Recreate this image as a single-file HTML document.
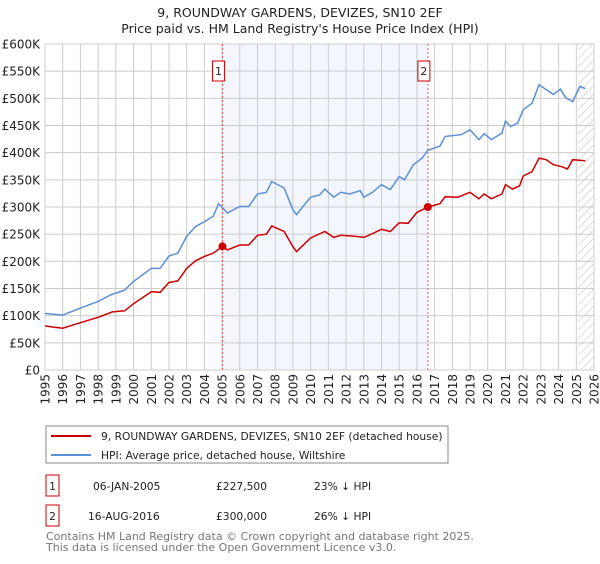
<!DOCTYPE html>
<html><head><meta charset="utf-8"><style>
body{margin:0;background:#fff;font-family:"DejaVu Sans","Liberation Sans",sans-serif;}
</style></head><body>
<svg width="600" height="560" xmlns="http://www.w3.org/2000/svg" font-family="DejaVu Sans, Liberation Sans, sans-serif">
<defs><pattern id="hatch" width="6" height="6" patternUnits="userSpaceOnUse" patternTransform="rotate(45)"><line x1="0" y1="0" x2="0" y2="6" stroke="#bbb" stroke-width="1"/></pattern></defs>
<text x="300" y="17" text-anchor="middle" font-size="12.5" fill="#222">9, ROUNDWAY GARDENS, DEVIZES, SN10 2EF</text>
<text x="300" y="33" text-anchor="middle" font-size="12.5" fill="#222">Price paid vs. HM Land Registry's House Price Index (HPI)</text>
<g id="plot"></g>
<g>
<rect x="46" y="426" width="402" height="37" fill="#fff" stroke="#888"/>
<line x1="51" y1="436" x2="91" y2="436" stroke="#cc0000" stroke-width="2"/>
<text x="101" y="440" font-size="10.7" fill="#222">9, ROUNDWAY GARDENS, DEVIZES, SN10 2EF (detached house)</text>
<line x1="51" y1="455" x2="91" y2="455" stroke="#5b8fd6" stroke-width="2"/>
<text x="101" y="459" font-size="10.7" fill="#222">HPI: Average price, detached house, Wiltshire</text>
</g>
<g font-size="10.7" fill="#222">
<rect x="46" y="475" width="13" height="21" fill="#fff" stroke="#cc0000"/><text x="52.5" y="490" text-anchor="middle">1</text>
<text x="93" y="490">06-JAN-2005</text><text x="216" y="490">£227,500</text><text x="314" y="490">23% ↓ HPI</text>
<rect x="46" y="505" width="13" height="21" fill="#fff" stroke="#cc0000"/><text x="52.5" y="520" text-anchor="middle">2</text>
<text x="88" y="520">16-AUG-2016</text><text x="216" y="520">£300,000</text><text x="314" y="520">26% ↓ HPI</text>
</g>
<text x="46" y="540" font-size="11" fill="#777">Contains HM Land Registry data © Crown copyright and database right 2025.</text>
<text x="46" y="551" font-size="11" fill="#777">This data is licensed under the Open Government Licence v3.0.</text>
</svg>
<script>
const yTicks=[0,50,100,150,200,250,300,350,400,450,500,550,600];
const yTickLabels=["£0","£50K","£100K","£150K","£200K","£250K","£300K","£350K","£400K","£450K","£500K","£550K","£600K"];
const xYears=[1995,1996,1997,1998,1999,2000,2001,2002,2003,2004,2005,2006,2007,2008,2009,2010,2011,2012,2013,2014,2015,2016,2017,2018,2019,2020,2021,2022,2023,2024,2025,2026];
const hpiT=[1995,1996,1997,1998,1998.7,1999.5,2000,2001,2001.5,2002,2002.5,2003,2003.5,2004,2004.5,2004.8,2005.3,2006,2006.5,2007,2007.5,2007.8,2008.5,2009,2009.2,2010,2010.5,2010.8,2011.3,2011.7,2012.2,2012.8,2013,2013.5,2014,2014.5,2015,2015.3,2015.8,2016.3,2016.6,2017.3,2017.6,2018.5,2019,2019.5,2019.8,2020.2,2020.8,2021,2021.3,2021.7,2022,2022.5,2022.9,2023.3,2023.7,2024.1,2024.4,2024.8,2025.2,2025.5];
const hpiV=[104,101,114,126,138,147,163,187,187,210,215,246,264,273,283,306,289,301,301,324,327,347,335,295,286,318,322,333,318,327,324,330,318,327,341,332,356,350,378,390,404,412,430,433,442,424,435,424,436,458,448,455,479,491,525,516,507,517,501,494,522,518];
const ppT=[1995,1996,1997,1998,1998.8,1999.5,2000,2001,2001.5,2002,2002.5,2003,2003.5,2004,2004.5,2005.02,2005.3,2006,2006.5,2007,2007.5,2007.8,2008.5,2009,2009.2,2010,2010.8,2011.3,2011.7,2012.5,2013,2013.5,2014,2014.5,2015,2015.5,2016,2016.62,2017.3,2017.6,2018.3,2019,2019.5,2019.8,2020.2,2020.8,2021,2021.4,2021.8,2022,2022.5,2022.9,2023.3,2023.7,2024.2,2024.5,2024.8,2025.5];
const ppV=[81,77,87,97,107,109,122,144,143,161,164,187,201,209,215,227.5,221,230,230,248,250,265,255,227,218,243,255,244,248,246,244,251,259,255,271,270,290,300,306,319,318,327,315,324,315,324,341,333,339,357,365,390,387,378,374,370,387,385];
const saleT=[2005.02,2016.62];
const saleV=[227.5,300];
const saleLabels=["1","2"];
const NS="http://www.w3.org/2000/svg";
const X0=45,X1=594,Y0=370,Y1=44,XR=594;
const xs=t=>X0+(t-1995)/(2026-1995)*(X1-X0);
const ys=v=>Y0-v/600*(Y0-Y1);
const g=document.getElementById('plot');
function mk(tag,at){const e=document.createElementNS(NS,tag);for(const k in at)e.setAttribute(k,at[k]);g.appendChild(e);return e;}
let e=mk('rect',{x:xs(saleT[0]),y:Y1,width:xs(saleT[1])-xs(saleT[0]),height:Y0-Y1,fill:'#eef3fc',opacity:0.7});


e=mk('rect',{x:xs(2025.1),y:Y1,width:XR-xs(2025.1),height:Y0-Y1,fill:'url(#hatch)'});


yTicks.forEach((v,i)=>{
 let l=mk('line',{x1:X0,x2:XR,y1:ys(v),y2:ys(v),stroke:'#ccc','stroke-width':1});
 
 
 let t=mk('text',{x:40,y:ys(v)+4.5,'text-anchor':'end','font-size':12,fill:'#222'});
 t.textContent=yTickLabels[i];
 
 
});
xYears.forEach(yr=>{
 let l=mk('line',{x1:xs(yr),x2:xs(yr),y1:Y1,y2:Y0,stroke:'#ccc','stroke-width':1});
 
 
 let t=mk('text',{x:0,y:0,'text-anchor':'end','font-size':12,fill:'#222',transform:`translate(${xs(yr)+4.5},374) rotate(-90)`});
 t.textContent=yr;
 
 
});
e=mk('rect',{x:X0,y:Y1,width:XR-X0,height:Y0-Y1,fill:'none',stroke:'#ccc'});


saleT.forEach((t,i)=>{
 let l=mk('line',{x1:xs(t),x2:xs(t),y1:Y1,y2:Y0,stroke:'#e55','stroke-width':1,'stroke-dasharray':'2,2'});
 
 
 let r=mk('rect',{x:xs(t)-10,y:61,width:12,height:20,fill:'#fff',stroke:'#cc0000'});
 
 
 let tx=mk('text',{x:xs(t)-4,y:75,'text-anchor':'middle','font-size':11,fill:'#222'});
 tx.textContent=saleLabels[i];
 
 
});
e=mk('path',{d:hpiT.map((t,i)=>(i?'L':'M')+xs(t).toFixed(1)+','+ys(hpiV[i]).toFixed(1)).join(''),fill:'none',stroke:'#5b8fd6','stroke-width':1.5});


e=mk('path',{d:ppT.map((t,i)=>(i?'L':'M')+xs(t).toFixed(1)+','+ys(ppV[i]).toFixed(1)).join(''),fill:'none',stroke:'#cc0000','stroke-width':1.5});


saleT.forEach((t,i)=>{
 let c=mk('circle',{cx:xs(t),cy:ys(saleV[i]),r:4,fill:'#cc0000'});
 
 
});
</script>
</body></html>
